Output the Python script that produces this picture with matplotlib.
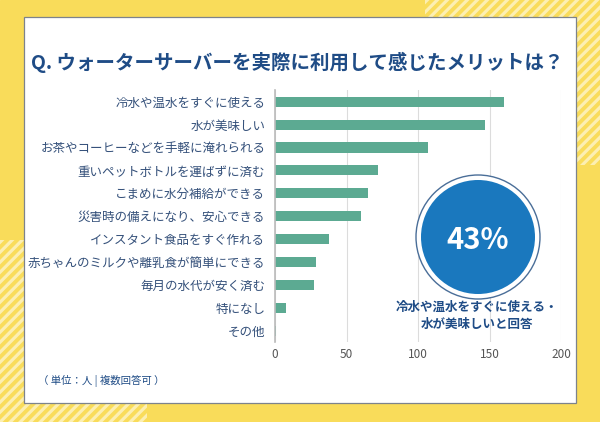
import matplotlib
matplotlib.use("Agg")
import matplotlib.pyplot as plt
from matplotlib.patches import Rectangle, Circle, Polygon

plt.rcParams['font.family'] = ['Noto Sans CJK JP', 'DejaVu Sans']

# data
categories = [
    "冷水や温水をすぐに使える",
    "水が美味しい",
    "お茶やコーヒーなどを手軽に淹れられる",
    "重いペットボトルを運ばずに済む",
    "こまめに水分補給ができる",
    "災害時の備えになり、安心できる",
    "インスタント食品をすぐ作れる",
    "赤ちゃんのミルクや離乳食が簡単にできる",
    "毎月の水代が安く済む",
    "特になし",
    "その他",
]
counts = [160, 147, 107, 72, 65, 60, 38, 29, 27, 8, 1]
xticks = [0, 50, 100, 150, 200]

title = "Q. ウォーターサーバーを実際に利用して感じたメリットは？"
highlight = "43%"
highlight_note = "冷水や温水をすぐに使える・\n水が美味しいと回答"
unit_note = "（ 単位：人 | 複数回答可 ）"

yellow = "#F9DC5A"
stripe = "#FCEFB2"
navy = "#1F4C86"
label_col = "#34507A"
bar_col = "#5CAA92"
blue = "#1A78BE"

fig = plt.figure(figsize=(6, 4.22), dpi=100)

# background in pixel coords
bg = fig.add_axes([0, 0, 1, 1], zorder=0)
bg.set_xlim(0, 600)
bg.set_ylim(422, 0)
bg.axis("off")
bg.add_patch(Rectangle((0, 0), 600, 422, color=yellow))


def stripes(x0, y0, w, h, period=10, width=4.5):
    clip = Rectangle((x0, y0), w, h, transform=bg.transData, visible=False)
    bg.add_patch(clip)
    k = -h - period
    while k < w + h + period:
        # "/" stripe: moving right goes up (y decreases in pixel coords)
        x = x0 + k
        poly = Polygon([(x, y0 + h), (x + width, y0 + h),
                        (x + width + h, y0), (x + h, y0)],
                       closed=True, color=stripe, lw=0)
        bg.add_patch(poly)
        poly.set_clip_path(clip)
        k += period


stripes(425, 0, 175, 165)
stripes(0, 240, 147, 182)

# white panel
bg.add_patch(Rectangle((24, 17), 552, 386, facecolor="white",
                       edgecolor="#7D838C", lw=0.9))

bg.text(297, 62, title, ha="center", va="center", fontsize=14,
        fontweight="bold", color=navy)
bg.text(38, 381, unit_note, ha="left", va="center", fontsize=7.5,
        color=navy)

# bar chart
ax = fig.add_axes([275 / 600, 1 - 342.2 / 422, 286 / 600, 252 / 422],
                  zorder=1)
ax.patch.set_alpha(0)
ypos = list(range(len(categories)))
ax.barh(ypos, counts, height=0.44, color=bar_col, zorder=2)
ax.set_ylim(len(categories) - 0.5, -0.5)
ax.set_xlim(0, 200)
ax.set_yticks(ypos)
ax.set_yticklabels(categories, fontsize=9, color=label_col)
ax.set_xticks(xticks)
ax.set_xticklabels([str(t) for t in xticks], fontsize=8.5, color="#555555")
ax.tick_params(axis="y", length=0, pad=7)
ax.tick_params(axis="x", length=0, pad=4)
ax.grid(axis="x", color="#DCDCDC", lw=0.8, zorder=0)
ax.set_axisbelow(True)
for s in ["top", "right", "bottom"]:
    ax.spines[s].set_visible(False)
ax.spines["left"].set_color("#BBBBBB")
ax.spines["left"].set_linewidth(1.2)

# overlay with the highlight circle
ov = fig.add_axes([0, 0, 1, 1], zorder=2)
ov.set_xlim(0, 600)
ov.set_ylim(422, 0)
ov.axis("off")
ov.add_patch(Circle((478, 237), 62, facecolor="white",
                    edgecolor="#4A6E98", lw=1.0))
ov.add_patch(Circle((478, 237), 57, facecolor=blue, edgecolor="none"))
ov.text(478, 240, highlight, ha="center", va="center", fontsize=21,
        fontweight="bold", color="white")
ov.text(477, 316, highlight_note, ha="center", va="center", fontsize=9,
        fontweight="bold", color=navy, linespacing=1.45)

fig.savefig("out.png", dpi=100)
